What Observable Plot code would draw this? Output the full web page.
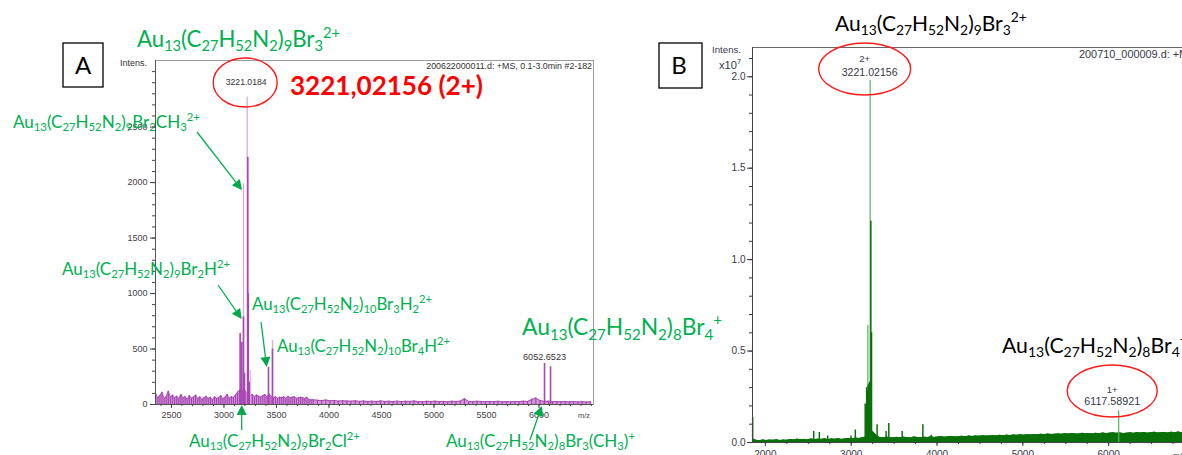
<!DOCTYPE html>
<html><head><meta charset="utf-8">
<script src="https://cdn.jsdelivr.net/npm/d3@7"></script>
<script src="https://cdn.jsdelivr.net/npm/@observablehq/plot@0.6"></script>
<style>
html,body{margin:0;padding:0;background:#fff;overflow:hidden}
#root{position:relative;width:1182px;height:455px;overflow:hidden;background:#fff}
#root > svg{position:absolute;top:0}
</style></head><body><div id="root"></div>
<script>
// ================= DATA =================
// Panel A (purple spectrum, intensity in counts)
const noiseA1Start = 2350, noiseA1Step = 20;
const noiseA1 = [
  95, 60, 80, 110, 55, 70, 120, 65, 85, 60,
  75, 50, 90, 60, 70, 45, 80, 55, 65, 85,
  50, 70, 45, 60, 75, 55, 65, 40, 70, 55,
  60, 80, 50, 65, 90, 55, 70, 60, 85, 110,
  130, 120, 140, 110, 95, 80, 90, 70, 85, 75,
  65, 80, 90, 70, 95, 75, 60, 70, 55, 65,
  60, 70, 55, 75, 60, 65, 70, 55, 60, 65,
  60, 55, 65, 45, 40];
const noiseA2Start = 3850, noiseA2Step = 40;
const noiseA2 = [
  42, 38, 35, 40, 33, 36, 30, 34, 31, 29,
  33, 28, 31, 27, 30, 26, 32, 28, 29, 27,
  30, 26, 29, 28, 31, 27, 25, 29, 27, 30,
  26, 28, 25, 29, 27, 30, 52, 28, 26, 29,
  27, 25, 28, 26, 29, 24, 27, 25, 28, 26,
  30, 27, 45, 58, 35, 28, 30, 26, 28, 25,
  27, 24, 26, 23, 25, 22, 24];
const peaksA_mz  = [3154, 3170, 3186, 3196, 3227, 3231, 3240, 3424, 3462, 6052.65, 6110];
const peaksA_int = [640,  560,  790,  280,  2228, 1000, 200,  336,  500,  370,     340];
const thinA_mz  = [3186, 3221, 3250, 3462];
const thinA_int = [1990, 2770, 306,  577];
const ticksA_x = [2500, 3000, 3500, 4000, 4500, 5000, 5500, 6000];
const ticksA_y = [0, 500, 1000, 1500, 2000, 2500];

// Panel B (green spectrum, intensity x10^7)
const noiseBStart = 1850, noiseBStep = 40;
const noiseB = [
  0.020,0.012,0.010,0.014,0.011,0.013,0.012,0.015,0.011,0.013,
  0.012,0.016,0.014,0.018,0.015,0.017,0.014,0.019,0.016,0.018,
  0.017,0.020,0.016,0.019,0.018,0.021,0.017,0.020,0.022,0.019,
  0.024,0.022,0.026,0.030,0.045,0.060,0.040,0.028,0.025,0.030,
  0.027,0.025,0.028,0.026,0.029,0.027,0.025,0.030,0.028,0.026,
  0.029,0.027,0.031,0.028,0.030,0.032,0.029,0.031,0.033,0.030,
  0.032,0.034,0.031,0.035,0.033,0.036,0.034,0.037,0.035,0.036,
  0.038,0.036,0.039,0.037,0.040,0.038,0.041,0.039,0.042,0.040,
  0.043,0.041,0.044,0.042,0.045,0.043,0.046,0.044,0.045,0.047,
  0.045,0.048,0.046,0.049,0.047,0.046,0.050,0.048,0.049,0.047,
  0.050,0.048,0.052,0.049,0.051,0.053,0.050,0.052,0.049,0.051,
  0.053,0.050,0.054,0.052,0.055,0.051,0.053,0.056,0.052,0.054,
  0.055,0.052,0.056,0.053,0.057,0.054,0.056,0.053,0.055];
const peaksB_mz  = [1852, 2563, 2629, 2726, 2998, 3048, 3163, 3180, 3190, 3198, 3206, 3215, 3229, 3237, 3245, 3302, 3407, 3438, 3594, 3835, 3933];
const peaksB_int = [0.137,0.06, 0.055,0.035,0.035,0.068,0.21, 0.30, 0.28, 0.31, 0.32, 0.33, 1.21, 0.60, 0.05, 0.097,0.06, 0.104,0.06, 0.097,0.04];
const thinB_mz  = [3194, 3221, 6117];
const thinB_int = [0.64, 1.98, 0.174];
const ticksB_x = [2000, 3000, 4000, 5000, 6000];
const ticksB_y = [0, 0.5, 1.0, 1.5, 2.0];

// Annotation texts
const formulaA_main   = "Au_{13}(C_{27}H_{52}N_{2})_{9}Br_{3}^{2+}";
const formulaA_CH3    = "Au_{13}(C_{27}H_{52}N_{2})_{9}Br_{2}CH_{3}^{2+}";
const formulaA_Br2H   = "Au_{13}(C_{27}H_{52}N_{2})_{9}Br_{2}H^{2+}";
const formulaA_10Br3  = "Au_{13}(C_{27}H_{52}N_{2})_{10}Br_{3}H_{2}^{2+}";
const formulaA_10Br4  = "Au_{13}(C_{27}H_{52}N_{2})_{10}Br_{4}H^{2+}";
const formulaA_Cl     = "Au_{13}(C_{27}H_{52}N_{2})_{9}Br_{2}Cl^{2+}";
const formulaA_8CH3   = "Au_{13}(C_{27}H_{52}N_{2})_{8}Br_{3}(CH_{3})^{+}";
const formula_8Br4    = "Au_{13}(C_{27}H_{52}N_{2})_{8}Br_{4}^{+}";
const exactMassA      = "3221,02156 (2+)";

// ================= BUILD =================
const root = document.getElementById("root");
const toRows = (start, step, vals) => vals.map((v, i) => ({mz: start + i * step, v}));
const zipRows = (xs, ys) => xs.map((x, i) => ({mz: x, v: ys[i]}));

const noiseA = toRows(noiseA1Start, noiseA1Step, noiseA1).concat(toRows(noiseA2Start, noiseA2Step, noiseA2));
const peaksA = zipRows(peaksA_mz, peaksA_int);
const thinA = zipRows(thinA_mz, thinA_int);
const noiseBRows = toRows(noiseBStart, noiseBStep, noiseB);
const peaksB = zipRows(peaksB_mz, peaksB_int);
const thinB = zipRows(thinB_mz, thinB_int);

const purple = "#a845b3", purpleLight = "#dcaadf";
const green = "#0a700a", greenLight = "#55b455";
const xDomA = [2348, 6519], yDomA = [0, 3100];
const xDomB = [1850, 7000], yDomB = [0, 2.16];
const blank = () => "";
const plain = d3.format("d");

const chartA = Plot.plot({
  width: 600, height: 455,
  marginLeft: 155, marginRight: 7, marginTop: 60, marginBottom: 51,
  x: {domain: xDomA, axis: null}, y: {domain: yDomA, axis: null},
  style: {fontFamily: "'Liberation Sans', Arial, sans-serif", fontSize: "9px", color: "#444", background: "transparent"},
  marks: [
    Plot.frame({stroke: "#9a9a9a"}),
    Plot.areaY(noiseA, {x: "mz", y: "v", fill: purple, fillOpacity: 0.55}),
    Plot.ruleX(noiseA, {x: "mz", y1: 0, y2: "v", stroke: purple, strokeWidth: 1.2}),
    Plot.lineY(noiseA, {x: "mz", y: "v", stroke: purple, strokeWidth: 0.9}),
    Plot.ruleX(thinA, {x: "mz", y1: 0, y2: "v", stroke: purpleLight, strokeWidth: 1.3}),
    Plot.ruleX(peaksA, {x: "mz", y1: 0, y2: "v", stroke: purple, strokeWidth: 1.6}),
    Plot.ruleX([xDomA[0]], {stroke: "#555"}),
    Plot.ruleY([0], {stroke: "#555"}),
    Plot.axisY({ticks: ticksA_y, tickSize: 5, tickPadding: 3, tickFormat: plain, label: null}),
    Plot.axisY({ticks: d3.range(0, 3001, 100), tickSize: 3, tickFormat: blank, label: null}),
    Plot.axisX({ticks: ticksA_x, tickSize: 4, tickPadding: 3, tickFormat: plain, label: null}),
    Plot.axisX({ticks: d3.range(2400, 6501, 100), tickSize: 2, tickFormat: blank, label: null})
  ]
});
chartA.style.left = "0px";
root.append(chartA);

const chartB = Plot.plot({
  width: 640, height: 455,
  marginLeft: 152, marginRight: 46, marginTop: 47, marginBottom: 13,
  x: {domain: xDomB, axis: null}, y: {domain: yDomB, axis: null},
  style: {fontFamily: "'Liberation Sans', Arial, sans-serif", fontSize: "10px", color: "#383848", background: "transparent"},
  marks: [
    Plot.ruleY([yDomB[1]], {stroke: "#666"}),
    Plot.areaY(noiseBRows, {x: "mz", y: "v", fill: green}),
    Plot.lineY(noiseBRows, {x: "mz", y: "v", stroke: green, strokeWidth: 1}),
    Plot.ruleX(noiseBRows, {x: "mz", y1: 0, y2: "v", stroke: green, strokeWidth: 1}),
    Plot.ruleX(thinB, {x: "mz", y1: 0, y2: "v", stroke: greenLight, strokeWidth: 1.2}),
    Plot.ruleX(peaksB, {x: "mz", y1: 0, y2: "v", stroke: green, strokeWidth: 1.5}),
    Plot.ruleX([xDomB[0]], {stroke: "#444"}),
    Plot.ruleY([0], {stroke: "#444"}),
    Plot.axisY({ticks: ticksB_y, tickSize: 5, tickPadding: 2, tickFormat: d3.format(".1f"), label: null}),
    Plot.axisY({ticks: d3.range(0, 2.11, 0.1), tickSize: 3, tickFormat: blank, label: null}),
    Plot.axisX({ticks: ticksB_x, tickSize: 4, tickPadding: 4, tickFormat: plain, label: null}),
    Plot.axisX({ticks: d3.range(2000, 7001, 250), tickSize: 2, tickFormat: blank, label: null})
  ]
});
chartB.style.left = "600px";
root.append(chartB);

// ================= ANNOTATIONS =================
const ns = "http://www.w3.org/2000/svg";
function mk(tag, attrs, parent) {
  const e = document.createElementNS(ns, tag);
  for (const k in attrs) e.setAttribute(k, attrs[k]);
  if (parent) parent.appendChild(e);
  return e;
}
const overlay = mk("svg", {width: 1182, height: 455});
overlay.style.left = "0px";
root.append(overlay);

function parse(str) {
  const out = []; const re = /([_^])\{([^}]*)\}|((?:[^_^]|[_^](?!\{))+)/g; let m;
  while ((m = re.exec(str))) {
    if (m[3]) out.push({k: "n", s: m[3]});
    else out.push({k: m[1] === "_" ? "sub" : "sup", s: m[2]});
  }
  return out;
}
function rich(spec) {
  const t = mk("text", {
    x: spec.x, y: spec.y, fill: spec.fill || "#000",
    "font-family": spec.family || "Lato, 'Open Sans', sans-serif",
    "font-weight": spec.weight || "normal",
    "text-anchor": spec.anchor || "start"
  }, overlay);
  const parts = parse(spec.t);
  const build = (size) => {
    while (t.firstChild) t.removeChild(t.firstChild);
    t.setAttribute("font-size", size);
    let cur = 0;
    for (const p of parts) {
      let off = 0, fs = size;
      if (p.k === "sub") { off = 0.2 * size; fs = 0.66 * size; }
      if (p.k === "sup") { off = -0.42 * size; fs = 0.66 * size; }
      const ts = mk("tspan", {dy: off - cur, "font-size": fs}, t);
      ts.textContent = p.s; cur = off;
    }
  };
  let size = spec.size || 20;
  build(size);
  if (spec.w) { const L = t.getComputedTextLength(); if (L > 0) { size = size * spec.w / L; build(size); } }
  return t;
}

const sxA = chartA.scale("x"), sxB = chartB.scale("x");
const GREEN = "#00b050", RED = "#ff1a1a";
const small = "'Liberation Sans', Arial, sans-serif";

// Panel letters
mk("rect", {x: 63, y: 43, width: 40, height: 44, fill: "none", stroke: "#000", "stroke-width": 1.3}, overlay);
rich({t: "A", x: 83, y: 74, size: 24, anchor: "middle"});
mk("rect", {x: 659, y: 43, width: 43, height: 45, fill: "none", stroke: "#000", "stroke-width": 1.3}, overlay);
rich({t: "B", x: 679, y: 74, size: 24, anchor: "middle"});

// Ellipses (anchored to the peaks they mark)
mk("ellipse", {cx: sxA.apply(3221) - 1.5, cy: 82.5, rx: 32, ry: 24.5, fill: "none", stroke: RED, "stroke-width": 1.4}, overlay);
mk("ellipse", {cx: sxB.apply(3221) + 600 - 5, cy: 69, rx: 46, ry: 26, fill: "none", stroke: RED, "stroke-width": 1.4}, overlay);
mk("ellipse", {cx: sxB.apply(6117) + 600 - 6, cy: 391, rx: 45, ry: 26, fill: "none", stroke: RED, "stroke-width": 1.4}, overlay);

// Small instrument texts
rich({t: "Intens.", x: 120, y: 66, w: 27, family: small, fill: "#333"});
rich({t: "3221.0184", x: sxA.apply(3221) - 0.5, y: 85, w: 41, family: small, fill: "#333", anchor: "middle"});
rich({t: "200622000011.d: +MS, 0.1-3.0min #2-182", x: 592, y: 69, w: 166, family: small, fill: "#333", anchor: "end"});
rich({t: "6052.6523", x: sxA.apply(6052.65) + 0.5, y: 360, w: 43, family: small, fill: "#333", anchor: "middle"});
rich({t: "m/z", x: 578, y: 418, w: 12, family: small, fill: "#444"});
rich({t: "Intens.", x: 741, y: 53, w: 29, family: small, fill: "#383848", anchor: "end"});
rich({t: "x10^{7}", x: 741, y: 69, w: 22, family: small, fill: "#383848", anchor: "end"});
rich({t: "2+", x: sxB.apply(3221) + 600 - 5, y: 62, size: 9.5, family: small, fill: "#383848", anchor: "middle"});
rich({t: "3221.02156", x: sxB.apply(3221) + 600, y: 76, w: 56, family: small, fill: "#383848", anchor: "middle"});
rich({t: "200710_000009.d: +MS, 0.1-3.0min #2-182", x: 1079, y: 58, w: 211, family: small, fill: "#383848"});
rich({t: "1+", x: sxB.apply(6117) + 600 - 6, y: 393, size: 9.5, family: small, fill: "#383848", anchor: "middle"});
rich({t: "6117.58921", x: sxB.apply(6117) + 600 - 6, y: 405, w: 56, family: small, fill: "#383848", anchor: "middle"});
rich({t: "m/z", x: 1173, y: 458, w: 13, family: small, fill: "#383848"});

// Formula labels
rich({t: formulaA_main,  x: 137, y: 47,  w: 203, fill: GREEN});
rich({t: formulaA_CH3,   x: 13,  y: 128, w: 187, fill: GREEN});
rich({t: formulaA_Br2H,  x: 62,  y: 275, w: 168, fill: GREEN});
rich({t: formulaA_10Br3, x: 252, y: 310, w: 180, fill: GREEN});
rich({t: formulaA_10Br4, x: 277, y: 352, w: 173, fill: GREEN});
rich({t: formulaA_Cl,    x: 189, y: 447, w: 171, fill: GREEN});
rich({t: formulaA_8CH3,  x: 446, y: 447, w: 189, fill: GREEN});
rich({t: formula_8Br4,   x: 522, y: 335, w: 200, fill: GREEN});
rich({t: formulaA_main,  x: 835, y: 31,  w: 192, fill: "#000"});
rich({t: formula_8Br4,   x: 1002, y: 353, w: 186, fill: "#000"});
rich({t: exactMassA, x: 290, y: 95, w: 193, fill: "#ff0000", weight: "bold"});

// Arrows
const arrows = [[197, 132, 242, 190], [218, 285, 241.7, 319], [261, 322, 266.7, 367], [241.7, 430, 241.7, 405], [530, 440, 541.7, 406]];
for (const [x1, y1, x2, y2] of arrows) {
  const dx = x2 - x1, dy = y2 - y1, L = Math.hypot(dx, dy), ux = dx / L, uy = dy / L;
  const hl = 10, hw = 5;
  const bx = x2 - ux * hl, by = y2 - uy * hl;
  mk("line", {x1, y1, x2: bx, y2: by, stroke: GREEN, "stroke-width": 1.3}, overlay);
  mk("polygon", {points: `${x2},${y2} ${bx - uy * hw},${by + ux * hw} ${bx + uy * hw},${by - ux * hw}`, fill: "#00a84a"}, overlay);
}
</script></body></html>
